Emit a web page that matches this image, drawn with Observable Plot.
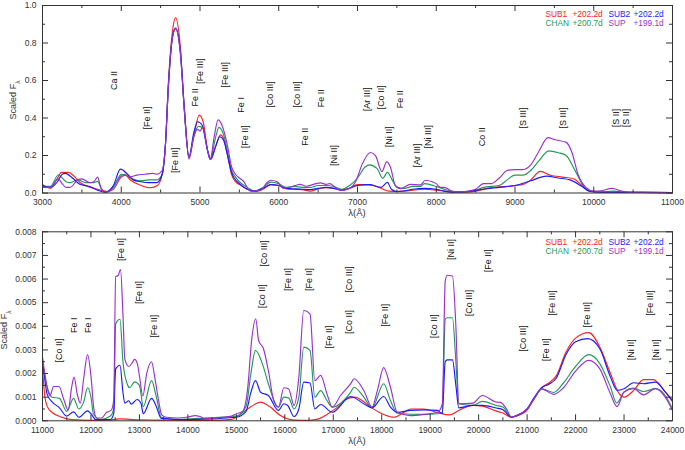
<!DOCTYPE html>
<html>
<head>
<meta charset="utf-8">
<script src="https://cdn.jsdelivr.net/npm/d3@7"></script>
<script src="https://cdn.jsdelivr.net/npm/@observablehq/plot@0.6"></script>
<style>
  html, body { margin: 0; padding: 0; background: #fff; }
  #chart svg { display: block; }
</style>
</head>
<body>
<div id="chart"></div>
<script>
// ---------------- DATA ----------------
// Series names and epochs (legend)
const seriesNames = ["SUB1", "SUB2", "CHAN", "SUP"];
const seriesEpochs = ["+202.2d", "+202.2d", "+200.7d", "+199.1d"];
const seriesColors = ["#ff2020", "#1a1aff", "#22995a", "#9a30d0"];

// Optical panel: [wavelength Å, scaled flux]
const optSUB1 = [[3000,.046],[3100,.025],[3190,.08],[3240,.11],[3330,.11],[3400,.09],[3480,.055],[3610,.03],[3740,.015],[3820,.008],[3910,.04],[3990,.09],[4040,.1],[4120,.068],[4250,.04],[4370,.028],[4460,.04],[4520,.1],[4560,.25],[4600,.6],[4650,.86],[4690,.935],[4750,.78],[4800,.45],[4860,.18],[4920,.3],[4990,.415],[5040,.38],[5100,.22],[5140,.18],[5200,.25],[5260,.31],[5300,.29],[5350,.2],[5400,.1],[5450,.06],[5500,.045],[5600,.02],[5700,.008],[5800,.02],[5900,.045],[6000,.04],[6100,.022],[6200,.02],[6300,.018],[6400,.01],[6500,.022],[6600,.028],[6700,.025],[6800,.015],[6900,.025],[7000,.045],[7100,.045],[7200,.04],[7300,.025],[7400,.01],[7500,.008],[7600,.01],[7700,.015],[7850,.02],[8000,.015],[8100,.01],[8200,.005],[8400,.005],[8500,.01],[8700,.03],[8900,.035],[9000,.04],[9100,.045],[9200,.07],[9320,.115],[9450,.095],[9600,.085],[9750,.075],[9850,.04],[9950,.01],[10100,.005],[10300,.005],[10600,.003],[11000,.002]];
const optSUB2 = [[3000,.04],[3100,.03],[3190,.06],[3250,.1],[3290,.105],[3380,.08],[3480,.045],[3600,.035],[3700,.015],[3800,.005],[3900,.04],[3990,.127],[4080,.1],[4150,.07],[4250,.06],[4350,.055],[4450,.055],[4520,.1],[4560,.25],[4600,.58],[4650,.83],[4690,.88],[4750,.76],[4800,.46],[4860,.19],[4920,.32],[4970,.38],[5030,.36],[5100,.22],[5130,.18],[5200,.25],[5250,.3],[5300,.28],[5350,.2],[5400,.11],[5450,.07],[5500,.05],[5600,.02],[5700,.01],[5800,.025],[5900,.045],[6000,.04],[6100,.025],[6200,.022],[6300,.02],[6400,.018],[6500,.025],[6600,.03],[6700,.025],[6800,.015],[6900,.025],[7000,.04],[7150,.045],[7300,.03],[7380,.057],[7430,.02],[7500,.008],[7600,.012],[7700,.02],[7850,.025],[8000,.02],[8100,.01],[8200,.005],[8400,.008],[8600,.02],[8800,.03],[9000,.04],[9200,.065],[9400,.09],[9550,.08],[9700,.07],[9850,.035],[9950,.008],[10100,.004],[10300,.004],[10600,.003],[11000,.002]];
const optCHAN = [[3000,.035],[3100,.035],[3200,.096],[3300,.06],[3350,.055],[3450,.07],[3550,.055],[3650,.055],[3700,.062],[3750,.02],[3800,.005],[3900,.03],[4000,.1],[4050,.095],[4150,.075],[4250,.065],[4350,.07],[4450,.07],[4520,.1],[4560,.25],[4600,.58],[4650,.83],[4690,.875],[4750,.75],[4800,.45],[4860,.19],[4920,.3],[4980,.355],[5030,.35],[5100,.22],[5130,.18],[5200,.3],[5240,.35],[5300,.31],[5350,.22],[5400,.12],[5450,.085],[5500,.06],[5600,.03],[5700,.01],[5800,.03],[5900,.058],[6000,.05],[6100,.03],[6200,.035],[6300,.03],[6400,.03],[6500,.04],[6600,.04],[6700,.035],[6800,.02],[6900,.04],[7000,.08],[7100,.14],[7150,.15],[7250,.13],[7320,.078],[7380,.11],[7440,.07],[7500,.03],[7600,.025],[7700,.035],[7800,.035],[7850,.05],[8000,.035],[8100,.02],[8200,.008],[8300,.005],[8500,.015],[8600,.03],[8800,.04],[8900,.07],[9000,.095],[9100,.095],[9200,.12],[9300,.17],[9430,.225],[9550,.215],[9650,.2],[9750,.13],[9850,.05],[9950,.01],[10100,.006],[10250,.01],[10400,.004],[10600,.003],[11000,.002]];
const optSUP = [[3000,.03],[3100,.03],[3200,.075],[3250,.05],[3300,.03],[3350,.03],[3450,.07],[3500,.075],[3600,.055],[3650,.06],[3700,.085],[3740,.03],[3800,.005],[3900,.02],[4000,.085],[4060,.095],[4100,.085],[4200,.095],[4300,.1],[4400,.105],[4450,.1],[4520,.12],[4560,.25],[4600,.58],[4650,.83],[4690,.875],[4750,.75],[4800,.45],[4860,.19],[4920,.3],[4970,.34],[5000,.33],[5030,.35],[5100,.22],[5130,.18],[5180,.3],[5230,.39],[5280,.36],[5350,.25],[5400,.14],[5450,.1],[5500,.08],[5550,.064],[5640,.01],[5770,.014],[5850,.055],[5900,.068],[5980,.06],[6060,.025],[6150,.032],[6230,.043],[6270,.046],[6350,.036],[6470,.05],[6530,.054],[6600,.046],[6650,.05],[6730,.025],[6800,.014],[6900,.025],[6980,.064],[7060,.154],[7165,.216],[7230,.198],[7310,.114],[7370,.166],[7420,.136],[7480,.04],[7550,.023],[7670,.046],[7800,.043],[7860,.068],[7950,.06],[8000,.05],[8050,.03],[8100,.03],[8200,.01],[8300,.005],[8400,.01],[8500,.02],[8600,.05],[8700,.05],[8800,.08],[8900,.12],[9000,.125],[9100,.125],[9200,.15],[9300,.22],[9420,.295],[9500,.285],[9650,.27],[9720,.22],[9800,.1],[9900,.03],[10000,.01],[10100,.012],[10230,.025],[10350,.01],[10500,.003],[11000,.002]];

// NIR panel: [wavelength Å, scaled flux in units of 1e-3]
const nirSUB1 = [[11000,2.2],[11050,1.0],[11100,.6],[11200,.35],[11400,.15],[11600,.05],[12000,.02],[12400,.04],[12600,.08],[12800,.06],[13000,.04],[13500,.03],[14000,.02],[14500,.02],[14900,.06],[15100,.3],[15290,.58],[15500,.79],[15700,.58],[15910,.22],[16190,.03],[16500,.02],[16700,.08],[16870,.27],[17100,.6],[17220,.86],[17450,1.0],[17600,.85],[17770,.58],[18040,.27],[18250,.15],[18450,.35],[18600,.5],[18870,.5],[19150,.35],[19400,.25],[19600,.45],[19880,.65],[20075,.62],[20365,.41],[20500,.33],[20680,.15],[20780,.2],[21000,.45],[21150,.95],[21300,1.4],[21450,1.6],[21600,1.9],[21800,2.9],[22000,3.5],[22270,3.73],[22500,3.12],[22720,2.0],[22900,1.15],[23000,1.0],[23200,1.29],[23400,1.74],[23600,1.74],[23850,1.22],[24000,.8]];
const nirSUB2 = [[11000,2.6],[11100,1.1],[11200,.8],[11350,.55],[11500,.2],[11640,.38],[11750,.15],[11930,.42],[12000,.3],[12100,.05],[12400,.05],[12470,.3],[12510,2.2],[12600,2.35],[12660,1.2],[12700,.75],[12780,.85],[12830,.7],[12950,.9],[13030,.75],[13080,.3],[13250,.95],[13350,.6],[13450,.1],[14000,.05],[15000,.15],[15200,.4],[15300,1.2],[15395,1.7],[15500,1.21],[15660,1.07],[15870,.44],[15980,.72],[16060,.65],[16190,.18],[16290,.5],[16390,1.64],[16520,1.6],[16620,.5],[16740,.69],[16980,.36],[17360,1.03],[17630,.72],[17800,.55],[18040,1.03],[18180,.58],[18320,.36],[18590,.44],[18870,.46],[19150,.44],[19250,.3],[19310,2.5],[19350,2.58],[19460,2.58],[19530,1.5],[19590,.55],[19880,.65],[20075,.65],[20365,.54],[20500,.47],[20680,.15],[20780,.22],[21000,.5],[21150,1.0],[21300,1.4],[21450,1.55],[21600,1.8],[21800,2.8],[22000,3.35],[22250,3.48],[22500,3.05],[22720,1.85],[22860,1.29],[23000,1.36],[23200,1.61],[23400,1.57],[23650,1.64],[23850,1.22],[24000,.86]];
const nirCHAN = [[11000,2.4],[11100,1.4],[11200,1.0],[11350,.95],[11500,.4],[11640,.95],[11750,.5],[11850,.8],[11930,1.4],[12000,1.0],[12050,.3],[12200,.05],[12400,.2],[12470,.5],[12510,4.1],[12600,4.3],[12660,2.5],[12750,1.55],[12800,1.4],[12900,1.65],[13000,1.5],[13080,.6],[13250,1.7],[13350,1.0],[13450,.15],[13800,.05],[14200,.1],[15000,.2],[15200,.6],[15300,2.0],[15395,2.98],[15560,2.27],[15660,1.57],[15870,.58],[15980,1.0],[16080,.97],[16190,.5],[16290,1.0],[16390,3.12],[16520,2.98],[16620,1.0],[16740,1.28],[16870,.86],[16980,.58],[17360,1.21],[17430,1.42],[17630,1.0],[17800,.55],[18040,1.57],[18180,.86],[18320,.32],[18870,.27],[19150,.3],[19250,.35],[19310,4.3],[19350,4.36],[19460,4.36],[19530,2.5],[19590,.72],[19880,.65],[20075,.82],[20365,.65],[20500,.58],[20680,.15],[20780,.22],[21000,.5],[21150,.95],[21300,1.35],[21550,1.2],[21750,1.6],[22000,2.3],[22270,2.8],[22500,2.42],[22720,1.43],[22850,.75],[23000,1.22],[23200,1.39],[23400,1.24],[23650,1.36],[23850,1.07],[24000,.5]];
const nirSUP = [[11000,2.7],[11080,1.6],[11150,1.05],[11230,1.45],[11340,1.45],[11440,.9],[11530,.45],[11600,1.4],[11650,1.85],[11720,1.1],[11780,.75],[11850,1.8],[11930,2.8],[12000,1.9],[12060,.5],[12120,.12],[12220,.12],[12320,.35],[12420,.45],[12470,.9],[12510,6.1],[12560,6.15],[12610,6.4],[12660,4.5],[12700,2.6],[12780,2.3],[12850,2.45],[12900,2.6],[12960,2.4],[13000,1.9],[13070,1.05],[13150,2.0],[13250,2.5],[13320,1.8],[13400,.8],[13460,.25],[13550,.15],[13800,.12],[14000,.16],[14150,.22],[14250,.18],[14350,.1],[14500,.1],[14700,.15],[14900,.2],[15000,.3],[15130,.4],[15230,1.3],[15320,3.5],[15400,4.32],[15460,3.4],[15560,3.05],[15660,2.13],[15770,.86],[15870,.58],[15980,1.4],[16080,1.35],[16190,.65],[16290,1.85],[16390,4.67],[16520,4.53],[16620,1.7],[16740,1.92],[16870,1.14],[16980,.58],[17150,1.07],[17360,1.57],[17430,1.78],[17630,1.28],[17800,.58],[17910,1.28],[18040,2.25],[18180,1.42],[18320,.36],[18590,.22],[18870,.27],[19150,.36],[19250,.72],[19310,5.9],[19350,6.16],[19460,6.13],[19530,4.0],[19590,.72],[19880,.75],[20075,1.07],[20365,.79],[20450,.78],[20560,.55],[20680,.15],[20780,.22],[21000,.5],[21150,.95],[21300,1.35],[21550,1.12],[21750,1.4],[22000,2.1],[22270,2.56],[22500,2.2],[22720,1.14],[22855,.6],[23000,1.22],[23200,1.36],[23400,1.1],[23650,1.36],[23850,1.0],[24000,.44]];

// Line identifications: [label, wavelength Å, label-centre flux]
const optLines = [["Ca II",3915,.6],["[Fe II]",4326,.4],["[Fe III]",4678,.175],["Fe II",4941,.51],["[Fe III]",4996,.65],["[Fe III]",5314,.63],["Fe I",5521,.47],["[Fe II]",5568,.3],["[Co III]",5894,.525],["[Co III]",6233,.525],["Fe II",6339,.3],["Fe II",6538,.505],["[Ni II]",6699,.2],["[Ar III]",7116,.5],["[Co II]",7296,.51],["Fe II",7536,.5],["[Ni II]",7403,.3],["[Ar III]",7760,.2],["[Ni III]",7897,.3],["Co II",8584,.3],["[S III]",9099,.4],["[S III]",9605,.4],["[S II]",10283,.4],["[S II]",10412,.4]];
const nirLines = [["[Co II]",11337,2.98],["Fe I",11654,4.04],["Fe I",11943,4.04],["[Fe II]",12617,7.25],["[Fe II]",13003,5.43],["[Fe II]",13306,4.0],["[Co II]",15529,5.27],["[Co III]",15563,7.08],["[Fe II]",16058,5.98],["[Fe II]",16492,5.98],["[Fe II]",16905,3.55],["[Co III]",17336,5.98],["[Co II]",17336,4.18],["[Fe II]",18069,4.47],["[Co II]",19072,4.0],["[Ni II]",19432,7.25],["[Co III]",19798,4.99],["[Fe II]",20192,6.77],["[Co III]",20918,3.48],["[Fe II]",21382,3.01],["[Fe III]",21506,4.99],["[Fe III]",22246,4.49],["[Ni II]",23145,3.01],["[Ni II]",23664,3.01],["[Fe III]",23546,4.99]];

// Axis ticks
const optXTicks = [3000,4000,5000,6000,7000,8000,9000,10000,11000];
const optYTicks = [0,0.2,0.4,0.6,0.8,1.0];
const nirXTicks = [11000,12000,13000,14000,15000,16000,17000,18000,19000,20000,21000,22000,23000,24000];
const nirYTicks = [0,0.001,0.002,0.003,0.004,0.005,0.006,0.007,0.008];

// ---------------- DRAWING ----------------
const FONT = "'Liberation Sans', Arial, sans-serif";
const AX = "#333";

function makePanel(opts) {
  const {series, lines, xDomain, yDomain, xTicks, yTicks, xMinorStep, yMinorStep, yFmt,
         mTop, mBottom, scale, legendDy} = opts;
  const W = 685, H = 225, mLeft = 42, mRight = 13;
  const plotW = W - mLeft - mRight, plotH = H - mTop - mBottom;
  const xMinorAll = d3.range(xDomain[0], xDomain[1] + 1e-9, xMinorStep);
  const yMinorAll = d3.range(0, yDomain[1] + yMinorStep / 2, yMinorStep);
  const majL = 6, minL = 3;
  const isMajX = d => xTicks.some(t => Math.abs(t - d) < 1e-6);
  const isMajY = d => yTicks.some(t => Math.abs(t - d) < 1e-9);
  const xMin = xMinorAll.filter(d => !isMajX(d));
  const yMin = yMinorAll.filter(d => !isMajY(d));

  // draw order: red, green, blue, purple
  const order = [0, 2, 1, 3];
  const lineMarks = order.map(i => Plot.line(series[i].map(([w, v]) => ({w, v: v * scale})),
    {x: "w", y: "v", stroke: seriesColors[i], strokeWidth: 1.15, curve: "monotone-x"}));

  const tickMarks = [
    Plot.tickX(xTicks, {x: d => d, insetTop: plotH - majL, stroke: AX}),
    Plot.tickX(xTicks, {x: d => d, insetBottom: plotH - majL, stroke: AX}),
    Plot.tickX(xMin, {x: d => d, insetTop: plotH - minL, stroke: AX}),
    Plot.tickX(xMin, {x: d => d, insetBottom: plotH - minL, stroke: AX}),
    Plot.tickY(yTicks, {y: d => d, insetRight: plotW - majL, stroke: AX}),
    Plot.tickY(yTicks, {y: d => d, insetLeft: plotW - majL, stroke: AX}),
    Plot.tickY(yMin, {y: d => d, insetRight: plotW - minL, stroke: AX}),
    Plot.tickY(yMin, {y: d => d, insetLeft: plotW - minL, stroke: AX}),
  ];

  const lineLabels = Plot.text(lines.map(([t, w, y]) => ({t, w, y: y * scale})), {
    x: "w", y: "y", text: "t", rotate: -90, fontSize: 9, fill: "#111", fontFamily: FONT
  });

  // legend
  const legendX = [503, 530, 566, 591];
  const legendMarks = [];
  seriesNames.forEach((name, i) => {
    const col = i % 2, row = Math.floor(i / 2);
    const dy = legendDy[row];
    legendMarks.push(Plot.text([name], {frameAnchor: "top-left", dx: legendX[col * 2], dy, text: d => d,
      fill: seriesColors[i], textAnchor: "start", lineAnchor: "middle", fontSize: 8.3, fontFamily: FONT}));
    legendMarks.push(Plot.text([seriesEpochs[i]], {frameAnchor: "top-left", dx: legendX[col * 2 + 1], dy, text: d => d,
      fill: seriesColors[i], textAnchor: "start", lineAnchor: "middle", fontSize: 8.3, fontFamily: FONT}));
  });

  return Plot.plot({
    width: W, height: H,
    marginLeft: mLeft, marginRight: mRight, marginTop: mTop, marginBottom: mBottom,
    style: {fontFamily: FONT, fontSize: "8.5px", color: "#333", background: "#fff"},
    x: {domain: xDomain},
    y: {domain: yDomain},
    marks: [
      ...lineMarks,
      lineLabels,
      ...legendMarks,
      ...tickMarks,
      Plot.frame({stroke: AX, strokeWidth: 1}),
      Plot.axisX(xTicks, {tickSize: 0, tickPadding: 6, tickFormat: d => String(d), label: null, fontSize: 8.5, fill: "#333"}),
      Plot.axisY(yTicks, {tickSize: 0, tickPadding: 6, tickFormat: yFmt, label: null, fontSize: 8.5, fill: "#333"})
    ]
  });
}

const topPanel = makePanel({
  series: [optSUB1, optSUB2, optCHAN, optSUP], lines: optLines,
  xDomain: [3000, 11000], yDomain: [0, 1], xTicks: optXTicks, yTicks: optYTicks,
  xMinorStep: 500, yMinorStep: 0.1, yFmt: d3.format(".1f"),
  mTop: 5, mBottom: 32.5, scale: 1, legendDy: [8.6, 17.8]
});
const bottomPanel = makePanel({
  series: [nirSUB1, nirSUB2, nirCHAN, nirSUP], lines: nirLines,
  xDomain: [11000, 24000], yDomain: [0, 0.008], xTicks: nirXTicks, yTicks: nirYTicks,
  xMinorStep: 500, yMinorStep: 0.0005, yFmt: d3.format(".3f"),
  mTop: 6.3, mBottom: 29.7, scale: 1e-3, legendDy: [10.6, 19.8]
});

function addLabels(svg, yLabelX, yLabelY, xLabelY) {
  const s = d3.select(svg);
  const t = s.append("text")
    .attr("transform", `translate(${yLabelX},${yLabelY}) rotate(-90)`)
    .attr("text-anchor", "middle").attr("font-size", 9).attr("font-family", FONT).attr("fill", "#333");
  t.append("tspan").text("Scaled F");
  t.append("tspan").attr("baseline-shift", "sub").attr("font-size", 6.5).text("λ");
  s.append("text").attr("x", 357).attr("y", xLabelY).attr("text-anchor", "middle")
    .attr("dominant-baseline", "middle").attr("font-size", 9.5).attr("font-family", FONT).attr("fill", "#333")
    .text("λ(Å)");
}
addLabels(topPanel, 16, 100, 213);
addLabels(bottomPanel, 7, 105, 216.5);

document.getElementById("chart").append(topPanel, bottomPanel);
</script>
</body>
</html>
